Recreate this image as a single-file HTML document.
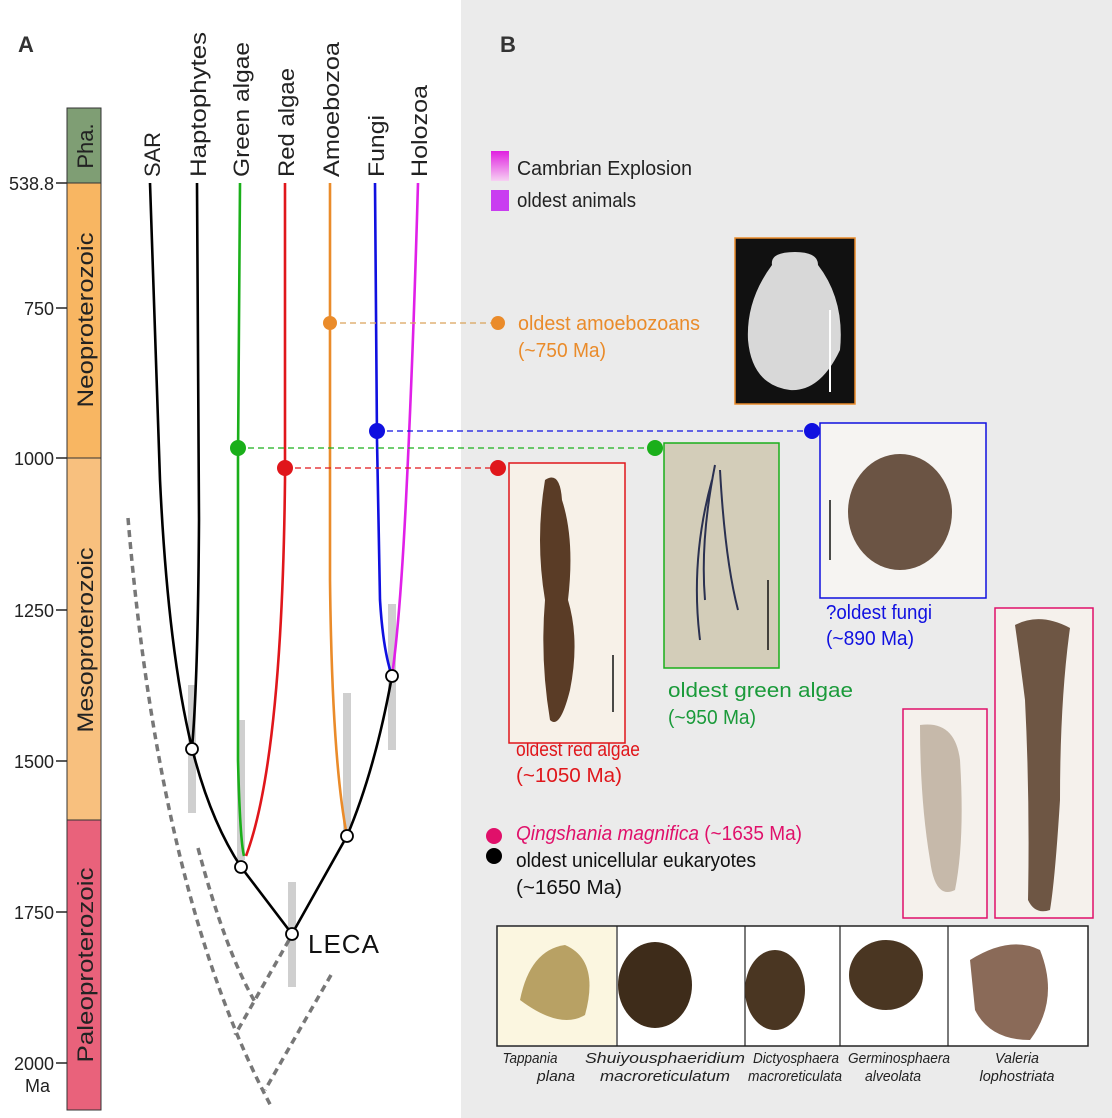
<!DOCTYPE html>
<html><head><meta charset="utf-8"><style>
html,body{margin:0;padding:0;background:#fff}
svg{display:block}
text{font-family:"Liberation Sans",sans-serif}
</style></head><body>
<svg width="1112" height="1118" viewBox="0 0 1112 1118" xmlns="http://www.w3.org/2000/svg">
<defs>
<linearGradient id="g1" x1="0" y1="0" x2="0" y2="1"><stop offset="0" stop-color="#e020e0"/><stop offset="1" stop-color="#f6d0f2"/></linearGradient>
</defs>
<rect x="0" y="0" width="1112" height="1118" fill="#fff"/>
<rect x="461" y="0" width="651" height="1118" fill="#ebebeb"/>
<text x="18" y="52" font-size="22" font-weight="bold" fill="#333">A</text>
<text x="500" y="52" font-size="22" font-weight="bold" fill="#333">B</text>
<g stroke="#333" stroke-width="1">
<rect x="67" y="108" width="34" height="75" fill="#7f9e74"/>
<rect x="67" y="183" width="34" height="275" fill="#f8b662"/>
<rect x="67" y="458" width="34" height="362" fill="#f8c07e"/>
<rect x="67" y="820" width="34" height="290" fill="#e9627b"/>
</g>
<g font-size="22" fill="#222">
<text transform="translate(93,146) rotate(-90)" text-anchor="middle">Pha.</text>
<text transform="translate(93,320) rotate(-90)" text-anchor="middle" textLength="175" lengthAdjust="spacingAndGlyphs">Neoproterozoic</text>
<text transform="translate(93,640) rotate(-90)" text-anchor="middle" textLength="185" lengthAdjust="spacingAndGlyphs">Mesoproterozoic</text>
<text transform="translate(93,965) rotate(-90)" text-anchor="middle" textLength="195" lengthAdjust="spacingAndGlyphs">Paleoproterozoic</text>
</g>
<g stroke="#222" stroke-width="1.5"><line x1="56" y1="183" x2="67" y2="183"/><line x1="56" y1="308" x2="67" y2="308"/><line x1="56" y1="458" x2="67" y2="458"/><line x1="56" y1="610" x2="67" y2="610"/><line x1="56" y1="761" x2="67" y2="761"/><line x1="56" y1="912" x2="67" y2="912"/><line x1="56" y1="1063" x2="67" y2="1063"/></g>
<g font-size="18" fill="#222" text-anchor="end">
<text x="54" y="190">538.8</text><text x="54" y="315">750</text><text x="54" y="465">1000</text><text x="54" y="617">1250</text><text x="54" y="768">1500</text><text x="54" y="919">1750</text><text x="54" y="1070">2000</text><text x="50" y="1092">Ma</text>
</g>
<g font-size="22" fill="#222">
<text transform="translate(160,177) rotate(-90)" textLength="45" lengthAdjust="spacingAndGlyphs">SAR</text>
<text transform="translate(206,177) rotate(-90)" textLength="145" lengthAdjust="spacingAndGlyphs">Haptophytes</text>
<text transform="translate(249,177) rotate(-90)" textLength="135" lengthAdjust="spacingAndGlyphs">Green algae</text>
<text transform="translate(294,177) rotate(-90)" textLength="109" lengthAdjust="spacingAndGlyphs">Red algae</text>
<text transform="translate(339,177) rotate(-90)" textLength="135" lengthAdjust="spacingAndGlyphs">Amoebozoa</text>
<text transform="translate(384,177) rotate(-90)" textLength="62" lengthAdjust="spacingAndGlyphs">Fungi</text>
<text transform="translate(427,177) rotate(-90)" textLength="92" lengthAdjust="spacingAndGlyphs">Holozoa</text>
</g>
<g fill="#cfcfcf">
<rect x="188" y="685" width="8" height="128"/>
<rect x="237" y="720" width="8" height="140"/>
<rect x="343" y="693" width="8" height="138"/>
<rect x="388" y="604" width="8" height="146"/>
<rect x="288" y="882" width="8" height="105"/>
</g>
<g stroke="#777" stroke-width="3.5" stroke-dasharray="7,5" fill="none">
<path d="M128,518 Q160,900 272,1108"/>
<path d="M198,848 Q225,950 255,1002"/>
<path d="M289,940 L235,1035"/>
<path d="M331,975 L265,1090"/>
</g>
<g fill="none" stroke-width="2.6">
<path d="M150,183 L160,480 Q168,650 192,748" stroke="#000"/>
<path d="M197,183 L199,520 Q198,680 192,748" stroke="#000"/>
<path d="M192,748 Q210,820 241,867 L292,934 L347,836 Q375,770 392,676" stroke="#000"/>
<path d="M240,183 L238,460 L238,760 Q240,840 244,856" stroke="#1aaf1a"/>
<path d="M285,183 L285,480 Q282,760 246,856" stroke="#e0161b"/>
<path d="M330,183 L330,580 Q332,760 347,836" stroke="#ea8b2a"/>
<path d="M375,183 L377,440 L380,600 Q383,650 392,676" stroke="#1010e0"/>
<path d="M418,183 Q413,360 406,500 Q400,620 392,676" stroke="#e020e8"/>
</g>
<g fill="#fff" stroke="#000" stroke-width="1.8">
<circle cx="192" cy="749" r="6"/><circle cx="241" cy="867" r="6"/><circle cx="347" cy="836" r="6"/><circle cx="392" cy="676" r="6"/><circle cx="292" cy="934" r="6"/>
</g>
<text x="308" y="953" font-size="26" fill="#111" letter-spacing="1">LECA</text>
<g stroke-width="1.3" stroke-dasharray="6,4">
<line x1="330" y1="323" x2="498" y2="323" stroke="#d9a25a"/>
<line x1="377" y1="431" x2="812" y2="431" stroke="#1010e0"/>
<line x1="238" y1="448" x2="655" y2="448" stroke="#1aaf1a"/>
<line x1="285" y1="468" x2="498" y2="468" stroke="#e0161b"/>
</g>
<circle cx="330" cy="323" r="7" fill="#ea8b2a"/><circle cx="498" cy="323" r="7" fill="#ea8b2a"/>
<circle cx="377" cy="431" r="8" fill="#1010e0"/><circle cx="812" cy="431" r="8" fill="#1010e0"/>
<circle cx="238" cy="448" r="8" fill="#1aaf1a"/><circle cx="655" cy="448" r="8" fill="#1aaf1a"/>
<circle cx="285" cy="468" r="8" fill="#e0161b"/><circle cx="498" cy="468" r="8" fill="#e0161b"/>
<rect x="491" y="151" width="18" height="30" fill="url(#g1)"/>
<rect x="491" y="190" width="18" height="21" fill="#c93cf0"/>
<g font-size="20" fill="#222"><text x="517" y="175" textLength="175" lengthAdjust="spacingAndGlyphs">Cambrian Explosion</text><text x="517" y="207" textLength="119" lengthAdjust="spacingAndGlyphs">oldest animals</text></g>
<g font-size="20">
<text x="518" y="330" fill="#ea8b2a" textLength="182" lengthAdjust="spacingAndGlyphs">oldest amoebozoans</text><text x="518" y="357" fill="#ea8b2a" textLength="88" lengthAdjust="spacingAndGlyphs">(~750 Ma)</text>
<text x="826" y="619" fill="#1010e0" textLength="106" lengthAdjust="spacingAndGlyphs">?oldest fungi</text><text x="826" y="645" fill="#1010e0" textLength="88" lengthAdjust="spacingAndGlyphs">(~890 Ma)</text>
<text x="668" y="697" fill="#1a9a3a" textLength="185" lengthAdjust="spacingAndGlyphs">oldest green algae</text><text x="668" y="724" fill="#1a9a3a" textLength="88" lengthAdjust="spacingAndGlyphs">(~950 Ma)</text>
<text x="516" y="756" fill="#e0161b" textLength="124" lengthAdjust="spacingAndGlyphs">oldest red algae</text><text x="516" y="782" fill="#e0161b" textLength="106" lengthAdjust="spacingAndGlyphs">(~1050 Ma)</text>
<text x="516" y="840" fill="#e0106a" textLength="286" lengthAdjust="spacingAndGlyphs"><tspan font-style="italic">Qingshania magnifica</tspan> (~1635 Ma)</text>
<text x="516" y="867" fill="#111" textLength="240" lengthAdjust="spacingAndGlyphs">oldest unicellular eukaryotes</text><text x="516" y="894" fill="#111" textLength="106" lengthAdjust="spacingAndGlyphs">(~1650 Ma)</text>
</g>
<circle cx="494" cy="836" r="8" fill="#e0106a"/><circle cx="494" cy="856" r="8" fill="#000"/>
<rect x="735" y="238" width="120" height="166" fill="#111" stroke="#ea8b2a" stroke-width="1.5"/>
<path d="M772,265 Q770,252 795,252 Q818,252 818,265 Q845,300 840,350 Q820,392 790,390 Q752,385 748,340 Q746,300 772,265Z" fill="#d8d8d8"/>
<line x1="830" y1="310" x2="830" y2="392" stroke="#fff" stroke-width="2"/>
<rect x="509" y="463" width="116" height="280" fill="#f7f1e8" stroke="#e0161b" stroke-width="1.5"/>
<path d="M545,480 Q560,470 562,500 Q575,540 568,600 Q580,640 570,690 Q560,730 550,720 Q540,660 545,600 Q535,540 545,480Z" fill="#5a3c26"/>
<line x1="613" y1="655" x2="613" y2="712" stroke="#111" stroke-width="1.5"/>
<rect x="664" y="443" width="115" height="225" fill="#d3cdb9" stroke="#1aaf1a" stroke-width="1.5"/>
<path d="M715,465 Q700,540 705,600 M720,470 Q725,560 738,610 M712,480 Q690,560 700,640" stroke="#2a3050" stroke-width="2" fill="none"/>
<line x1="768" y1="580" x2="768" y2="650" stroke="#111" stroke-width="1.5"/>
<rect x="820" y="423" width="166" height="175" fill="#f6f4f2" stroke="#1010e0" stroke-width="1.5"/>
<ellipse cx="900" cy="512" rx="52" ry="58" fill="#6b5444"/>
<line x1="830" y1="500" x2="830" y2="560" stroke="#111" stroke-width="1.5"/>
<rect x="903" y="709" width="84" height="209" fill="#f5f1ec" stroke="#e0106a" stroke-width="1.5"/>
<path d="M920,725 Q955,720 960,760 Q965,840 955,890 Q935,900 930,860 Q920,800 920,725Z" fill="#c6b9aa"/>
<rect x="995" y="608" width="98" height="310" fill="#f5f1ec" stroke="#e0106a" stroke-width="1.5"/>
<path d="M1015,625 Q1040,612 1070,628 Q1060,700 1060,800 Q1055,880 1050,910 Q1035,915 1028,900 Q1030,800 1025,700 Q1020,660 1015,625Z" fill="#6e5644"/>
<rect x="497" y="926" width="591" height="120" fill="#fff" stroke="#222" stroke-width="1.5"/>
<g stroke="#222" stroke-width="1.2"><line x1="617" y1="926" x2="617" y2="1046"/><line x1="745" y1="926" x2="745" y2="1046"/><line x1="840" y1="926" x2="840" y2="1046"/><line x1="948" y1="926" x2="948" y2="1046"/></g>
<rect x="498" y="927" width="118" height="118" fill="#fbf6e0"/>
<path d="M520,1000 Q530,950 565,945 Q600,960 585,1015 Q560,1030 520,1000Z" fill="#b8a164"/>
<ellipse cx="655" cy="985" rx="37" ry="43" fill="#3e2c1a"/>
<ellipse cx="775" cy="990" rx="30" ry="40" fill="#4a3622"/>
<ellipse cx="886" cy="975" rx="37" ry="35" fill="#4a3622"/>
<path d="M970,960 Q1010,935 1040,950 Q1060,1000 1030,1040 Q990,1040 975,1010Z" fill="#8a6a58"/>
<g font-size="15" font-style="italic" fill="#222" text-anchor="middle">
<text x="530" y="1063" textLength="55" lengthAdjust="spacingAndGlyphs">Tappania</text><text x="556" y="1081" textLength="38" lengthAdjust="spacingAndGlyphs">plana</text>
<text x="665" y="1063" textLength="160" lengthAdjust="spacingAndGlyphs">Shuiyousphaeridium</text><text x="665" y="1081" textLength="130" lengthAdjust="spacingAndGlyphs">macroreticulatum</text>
<text x="796" y="1063" textLength="86" lengthAdjust="spacingAndGlyphs">Dictyosphaera</text><text x="795" y="1081" textLength="94" lengthAdjust="spacingAndGlyphs">macroreticulata</text>
<text x="899" y="1063" textLength="102" lengthAdjust="spacingAndGlyphs">Germinosphaera</text><text x="893" y="1081" textLength="56" lengthAdjust="spacingAndGlyphs">alveolata</text>
<text x="1017" y="1063" textLength="44" lengthAdjust="spacingAndGlyphs">Valeria</text><text x="1017" y="1081" textLength="75" lengthAdjust="spacingAndGlyphs">lophostriata</text>
</g>
</svg>
</body></html>
